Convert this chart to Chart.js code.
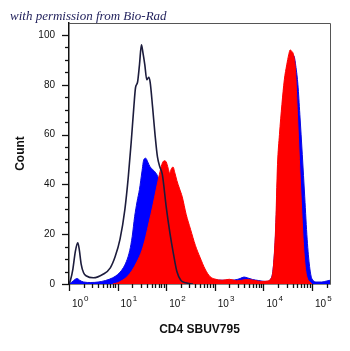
<!DOCTYPE html>
<html>
<head>
<meta charset="utf-8">
<script src="https://cdn.jsdelivr.net/npm/chart.js@4.4.0/dist/chart.umd.min.js"></script>
<style>
  html, body { margin: 0; padding: 0; background: #fff; }
</style>
</head>
<body>
<canvas id="histo" width="350" height="351"></canvas>
<script>
  // x values are decades (log10 of fluorescence), y values are counts

  // unstained control (black outline)
  const blackX = [0, 0.03, 0.08, 0.13, 0.18, 0.21, 0.25, 0.30, 0.36, 0.5, 0.7, 0.85, 0.95, 1.05, 1.15, 1.22, 1.28, 1.33, 1.37, 1.41, 1.45, 1.49, 1.52, 1.56, 1.60, 1.64, 1.67, 1.72, 1.77, 1.82, 1.87, 1.92, 2.0, 2.08, 2.15, 2.22, 2.30, 2.40, 2.55];
  const blackY = [0, 1.5, 6, 13, 16.5, 14, 8, 4.5, 3.2, 2.5, 3.9, 6.5, 11, 18, 30, 43, 57, 70, 79, 81, 88, 96, 93, 88, 82, 83, 81, 71, 60, 51, 47, 44, 31, 20, 12, 5, 1.5, 0.5, 0];

  // CD4 SBUV795 stained (red fill)
  const redX = [0.9, 1.0, 1.1, 1.2, 1.3, 1.4, 1.5, 1.58, 1.65, 1.72, 1.80, 1.86, 1.91, 1.96, 2.00, 2.04, 2.07, 2.10, 2.14, 2.18, 2.22, 2.27, 2.33, 2.41, 2.50, 2.60, 2.70, 2.80, 2.90, 3.0, 3.15, 3.30, 3.45, 3.55, 3.65, 3.8, 3.95, 4.08, 4.15, 4.20, 4.25, 4.29, 4.33, 4.38, 4.43, 4.48, 4.52, 4.55, 4.58, 4.62, 4.66, 4.70, 4.74, 4.78, 4.82, 4.86, 4.90, 4.95, 5.0];
  const redY = [0, 0.5, 1.5, 3, 5.5, 9, 13.5, 19, 25, 31, 38.5, 44, 48, 49.5, 49, 46.5, 44.5, 46, 47, 44.5, 41.5, 38.5, 35, 28, 22, 15.5, 10.5, 6, 3, 2, 1.5, 1.9, 1.3, 1.5, 1.8, 1.5, 1.0, 1.2, 2, 6, 22, 48, 60, 72, 82, 88, 92, 94, 93.5, 92, 86, 68, 50, 33, 17, 7, 2.5, 1, 0];

  // comparison sample (blue fill)
  const blueX = [0, 0.06, 0.12, 0.17, 0.22, 0.30, 0.45, 0.6, 0.75, 0.9, 1.0, 1.1, 1.18, 1.25, 1.30, 1.35, 1.40, 1.45, 1.50, 1.54, 1.58, 1.62, 1.67, 1.72, 1.77, 1.83, 1.90, 2.0, 2.1, 2.2, 2.3, 2.45, 2.6, 2.8, 3.0, 3.2, 3.4, 3.52, 3.60, 3.68, 3.78, 3.9, 4.05, 4.15, 4.20, 4.25, 4.30, 4.35, 4.40, 4.45, 4.50, 4.55, 4.59, 4.63, 4.67, 4.71, 4.75, 4.80, 4.85, 4.90, 4.95, 5.0, 5.1, 5.2, 5.3, 5.37];
  const blueY = [0, 0.8, 1.8, 2.2, 1.5, 0.8, 0.6, 0.8, 1.4, 2.5, 3.8, 6, 9, 13.5, 19, 27, 33, 38, 45, 50, 50.5, 49, 47, 46, 45, 43, 38, 30, 21, 13, 8, 4, 2.5, 2, 1.6, 1.5, 1.6, 2.2, 2.8, 2.4, 1.8, 1.4, 1.0, 2, 6, 20, 46, 60, 73, 82, 88, 91.5, 92, 91.5, 87, 80, 68, 52, 35, 18, 7, 2, 0.8, 0.8, 1.2, 1.5];

  const yTickLabels = [0, 20, 40, 60, 80, 100];
  const xDecades = [0, 1, 2, 3, 4, 5];

  const toPoints = (xs, ys) => xs.map((x, i) => ({ x: x, y: ys[i] }));

  // ticks, frame and the credit line
  const decorations = {
    id: "decorations",
    afterDraw(chart) {
      const { ctx, chartArea: a, scales } = chart;
      const xs = scales.x, ys = scales.y;
      ctx.save();

      // grey frame top & right
      ctx.strokeStyle = "#555";
      ctx.lineWidth = 1;
      ctx.beginPath();
      ctx.moveTo(a.left, a.top + 0.5);
      ctx.lineTo(a.right + 0.5, a.top + 0.5);
      ctx.lineTo(a.right + 0.5, a.bottom);
      ctx.stroke();

      ctx.strokeStyle = "#111";
      ctx.lineWidth = 1.3;
      // y ticks every 5, long ones every 20
      for (let v = 0; v <= 100; v += 5) {
        const py = Math.round(ys.getPixelForValue(v)) + 0.5;
        const len = v % 20 === 0 ? 7 : 4;
        ctx.beginPath();
        ctx.moveTo(a.left - len, py);
        ctx.lineTo(a.left, py);
        ctx.stroke();
      }
      // x log ticks
      for (let d = 0; d <= 5; d++) {
        for (let k = 1; k <= 9; k++) {
          const v = d + Math.log10(k);
          if (v > xs.max) continue;
          const px = Math.round(xs.getPixelForValue(v)) + 0.5;
          const len = k === 1 ? 7 : 4;
          ctx.beginPath();
          ctx.moveTo(px, a.bottom);
          ctx.lineTo(px, a.bottom + len);
          ctx.stroke();
        }
      }

      // decade labels 10^n
      ctx.fillStyle = "#111";
      ctx.textBaseline = "alphabetic";
      ctx.textAlign = "left";
      xDecades.forEach((d) => {
        const px = xs.getPixelForValue(d) + 3;
        ctx.font = "10px 'Liberation Sans', Arial, sans-serif";
        ctx.fillText("10", px, a.bottom + 23);
        const w = ctx.measureText("10").width;
        ctx.font = "8px 'Liberation Sans', Arial, sans-serif";
        ctx.fillText(String(d), px + w + 1, a.bottom + 17);
      });

      // credit line
      ctx.fillStyle = "#1e1e5a";
      ctx.font = "italic 13px 'Liberation Serif', 'DejaVu Serif', serif";
      ctx.fillText("with permission from Bio-Rad", 10, 20);
      ctx.restore();
    },
  };

  window.addEventListener("load", () => {
    const ctx = document.getElementById("histo");
    new Chart(ctx, {
      type: "line",
      data: {
        datasets: [
          {
            label: "Control",
            data: toPoints(blackX, blackY),
            borderColor: "#1c1c3c",
            borderWidth: 1.6,
            fill: false,
            pointRadius: 0,
            cubicInterpolationMode: "monotone",
          },
          {
            label: "CD4",
            data: toPoints(redX, redY),
            borderColor: "#ff0000",
            backgroundColor: "#ff0000",
            borderWidth: 1,
            fill: "origin",
            pointRadius: 0,
            cubicInterpolationMode: "monotone",
          },
          {
            label: "Sample",
            data: toPoints(blueX, blueY),
            borderColor: "#0a0ae0",
            backgroundColor: "#0000ff",
            borderWidth: 1,
            fill: "origin",
            pointRadius: 0,
            cubicInterpolationMode: "monotone",
          },
        ],
      },
      options: {
        responsive: false,
        animation: false,
        layout: { padding: { left: 0, top: 23, right: 20, bottom: 0 } },
        plugins: {
          legend: { display: false },
          tooltip: { enabled: false },
        },
        scales: {
          x: {
            type: "linear",
            min: 0,
            max: 5.37,
            ticks: { display: false },
            grid: { display: false },
            border: { color: "#111", width: 1.5 },
            title: {
              display: true,
              text: "CD4 SBUV795",
              color: "#111",
              font: { family: "'Liberation Sans', Arial, sans-serif", size: 12, weight: "bold" },
              padding: { top: 0, bottom: 14 },
            },
            afterFit: (s) => { s.height = 67; },
          },
          y: {
            type: "linear",
            min: 0,
            max: 104.8,
            afterBuildTicks: (s) => { s.ticks = yTickLabels.map((v) => ({ value: v })); },
            ticks: {
              color: "#111",
              padding: 7,
              font: { family: "'Liberation Sans', Arial, sans-serif", size: 10 },
            },
            grid: { display: false, tickLength: 7 },
            border: { color: "#111", width: 1.5 },
            title: {
              display: true,
              text: "Count",
              color: "#111",
              font: { family: "'Liberation Sans', Arial, sans-serif", size: 12, weight: "bold" },
              padding: { top: 13, bottom: 0 },
            },
            afterFit: (s) => { s.width = 69; },
          },
        },
      },
      plugins: [decorations],
    });
  });
</script>
</body>
</html>
